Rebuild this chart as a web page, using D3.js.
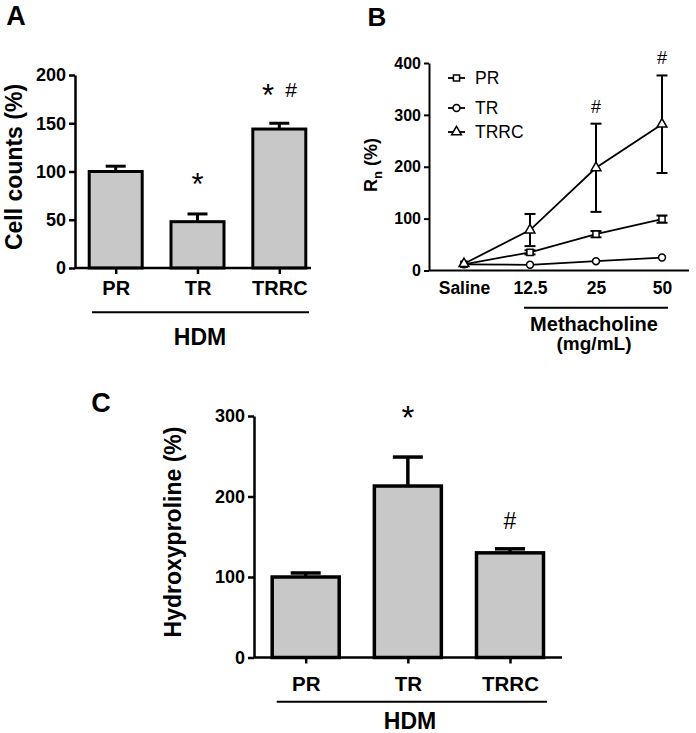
<!DOCTYPE html>
<html>
<head>
<meta charset="utf-8">
<script src="https://cdn.jsdelivr.net/npm/d3@7"></script>
<style>
html,body{margin:0;padding:0;background:#fff;}
svg{display:block;}
text{font-family:"Liberation Sans",Arial,Helvetica,sans-serif;fill:#000;}
</style>
</head>
<body>
<svg id="chart" width="696" height="733"></svg>
<script>
// ---------- DATA ----------
// Panel A: cell counts (%)
const catsA = ["PR", "TR", "TRRC"];
const valsA = [100, 48, 144];
const errA  = [5.5, 8, 6];
const ticksA = [0, 50, 100, 150, 200];

// Panel B: Rn (%) vs methacholine dose
const dosesB = ["Saline", "12.5", "25", "50"];
const seriesNamesB = ["PR", "TR", "TRRC"];
const prB   = [12, 35, 70, 99];
const prErrB = [2, 4, 6, 7];
const trB   = [12, 11, 18, 25];
const trErrB = [1, 1, 2, 2];
const trrcB = [13, 78, 198, 282];
const trrcErrB = [2, 31, 85, 94];
const ticksB = [0, 100, 200, 300, 400];
const sigB = [{dose:"25", mark:"#"}, {dose:"50", mark:"#"}];

// Panel C: hydroxyproline (%)
const catsC = ["PR", "TR", "TRRC"];
const valsC = [100, 213, 130];
const errC  = [5, 36, 5];
const ticksC = [0, 100, 200, 300];

// ---------- DRAW ----------
const svg = d3.select("#chart");
const FONT = '"Liberation Sans",Arial,Helvetica,sans-serif';

function text(g, x, y, s, size, weight, anchor) {
  return g.append("text").attr("x", x).attr("y", y)
    .attr("font-size", size).attr("font-weight", weight || "normal")
    .attr("text-anchor", anchor || "middle").text(s);
}
function vtext(g, x, y, s, size) {
  return g.append("text").attr("transform", `translate(${x},${y}) rotate(-90)`)
    .attr("font-size", size).attr("font-weight", "bold")
    .attr("text-anchor", "middle").text(s);
}
function styleAxis(ax, fs, lw) {
  ax.selectAll("path.domain").attr("stroke", "#000").attr("stroke-width", lw);
  ax.selectAll(".tick line").attr("stroke", "#000").attr("stroke-width", lw);
  ax.selectAll(".tick text").attr("font-size", fs).attr("font-weight", "bold")
    .attr("font-family", FONT).attr("fill", "#000");
}
// asterisk visual center is ~0.56em above baseline
function star(g, cx, cy, size) {
  text(g, cx, cy + size * 0.56, "*", size, "normal");
}

// ===== Panel A =====
(function(){
  const g = svg.append("g");
  const x0 = 75, xEnd = 311;
  const y = d3.scaleLinear().domain([0, 200]).range([268, 75]);
  const x = d3.scalePoint().domain(catsA).range([115.7, 279.3]);
  const bw = 53;

  text(g, 16, 25, "A", 27, "bold");

  const ay = g.append("g").attr("transform", `translate(${x0},0)`)
    .call(d3.axisLeft(y).tickValues(ticksA).tickSize(6).tickSizeOuter(0).tickPadding(3));
  styleAxis(ay, 18, 2.5);

  catsA.forEach((c, i) => {
    const cx = x(c);
    g.append("line").attr("x1", cx).attr("x2", cx).attr("y1", y(valsA[i])).attr("y2", y(valsA[i] + errA[i]))
      .attr("stroke", "#000").attr("stroke-width", 3);
    g.append("line").attr("x1", cx - 10).attr("x2", cx + 10).attr("y1", y(valsA[i] + errA[i])).attr("y2", y(valsA[i] + errA[i]))
      .attr("stroke", "#000").attr("stroke-width", 3);
    g.append("rect").attr("x", cx - bw / 2).attr("y", y(valsA[i]))
      .attr("width", bw).attr("height", y(0) - y(valsA[i]))
      .attr("fill", "#c8c8c8").attr("stroke", "#000").attr("stroke-width", 3);
  });

  g.append("line").attr("x1", x0).attr("x2", xEnd).attr("y1", y(0)).attr("y2", y(0))
    .attr("stroke", "#000").attr("stroke-width", 2.5);
  const ax = g.append("g").attr("transform", `translate(0,${y(0)})`)
    .call(d3.axisBottom(x).tickSize(6).tickSizeOuter(0));
  ax.select("path.domain").remove();
  styleAxis(ax, 20, 2.5);
  ax.selectAll(".tick text").attr("y", 27).attr("dy", 0);

  star(g, x("TR"), 178, 31);
  star(g, 268, 88.5, 31);
  text(g, 291, 97, "#", 21, "normal");

  g.append("line").attr("x1", 92).attr("x2", 309).attr("y1", 312.3).attr("y2", 312.3)
    .attr("stroke", "#000").attr("stroke-width", 2);
  text(g, 200, 345, "HDM", 23, "bold");

  vtext(g, 22, 167, "Cell counts (%)", 23);
})();

// ===== Panel B =====
(function(){
  const g = svg.append("g");
  const x0 = 429, xEnd = 689;
  const y = d3.scaleLinear().domain([0, 400]).range([270.5, 63]);
  const x = d3.scalePoint().domain(dosesB).range([464, 662]);

  text(g, 377, 26, "B", 26, "bold");

  const ay = g.append("g").attr("transform", `translate(${x0},0)`)
    .call(d3.axisLeft(y).tickValues(ticksB).tickSize(5).tickSizeOuter(0).tickPadding(3));
  styleAxis(ay, 16, 2);

  g.append("line").attr("x1", x0).attr("x2", xEnd).attr("y1", y(0)).attr("y2", y(0))
    .attr("stroke", "#000").attr("stroke-width", 2);
  const ax = g.append("g").attr("transform", `translate(0,${y(0)})`)
    .call(d3.axisBottom(x).tickSize(0).tickSizeOuter(0));
  ax.select("path.domain").remove();
  styleAxis(ax, 17.5, 2);
  ax.selectAll(".tick text").attr("y", 23).attr("dy", 0);

  const series = [
    {name: "PR", vals: prB, err: prErrB, sym: d3.symbolSquare, size: 38},
    {name: "TR", vals: trB, err: trErrB, sym: d3.symbolCircle, size: 38},
    {name: "TRRC", vals: trrcB, err: trrcErrB, sym: d3.symbolTriangle, size: 42}
  ];
  const line = d3.line().x((d, i) => x(dosesB[i])).y(d => y(d));

  series.forEach(s => {
    g.append("path").attr("d", line(s.vals)).attr("fill", "none")
      .attr("stroke", "#000").attr("stroke-width", 1.8);
  });
  series.forEach(s => {
    s.vals.forEach((v, i) => {
      if (s.err[i] < 3) return;
      const cx = x(dosesB[i]);
      g.append("line").attr("x1", cx).attr("x2", cx).attr("y1", y(v - s.err[i])).attr("y2", y(v + s.err[i]))
        .attr("stroke", "#000").attr("stroke-width", 2);
      [v - s.err[i], v + s.err[i]].forEach(e => {
        g.append("line").attr("x1", cx - 5.5).attr("x2", cx + 5.5).attr("y1", y(e)).attr("y2", y(e))
          .attr("stroke", "#000").attr("stroke-width", 2);
      });
    });
  });
  series.forEach(s => {
    s.vals.forEach((v, i) => {
      g.append("path").attr("d", d3.symbol().type(s.sym).size(s.size)())
        .attr("transform", `translate(${x(dosesB[i])},${y(v)})`)
        .attr("fill", "#fff").attr("stroke", "#000").attr("stroke-width", 1.5);
    });
  });

  sigB.forEach(sg => {
    const i = dosesB.indexOf(sg.dose);
    const top = trrcB[i] + trrcErrB[i];
    text(g, x(sg.dose), y(top) - 11, sg.mark, 18, "normal");
  });

  const legY = [78, 108, 132];
  series.forEach((s, k) => {
    g.append("line").attr("x1", 448).attr("x2", 465).attr("y1", legY[k]).attr("y2", legY[k])
      .attr("stroke", "#000").attr("stroke-width", 1.8);
    g.append("path").attr("d", d3.symbol().type(s.sym).size(s.size)())
      .attr("transform", `translate(456.5,${legY[k]})`)
      .attr("fill", "#fff").attr("stroke", "#000").attr("stroke-width", 1.5);
    text(g, 475, legY[k] + 6, s.name, 17.5, "normal", "start");
  });

  g.append("line").attr("x1", 524).attr("x2", 668).attr("y1", 307.7).attr("y2", 307.7)
    .attr("stroke", "#000").attr("stroke-width", 2);
  text(g, 594, 331, "Methacholine", 20, "bold");
  text(g, 594, 350, "(mg/mL)", 19, "bold");

  const t = g.append("text").attr("transform", "translate(377,165) rotate(-90)")
    .attr("font-size", 18).attr("font-weight", "bold").attr("text-anchor", "middle");
  t.append("tspan").text("R");
  t.append("tspan").attr("font-size", 13).attr("dy", 5).text("n");
  t.append("tspan").attr("dy", -5).text(" (%)");
})();

// ===== Panel C =====
(function(){
  const g = svg.append("g");
  const x0 = 254, xEnd = 562;
  const y = d3.scaleLinear().domain([0, 300]).range([657.5, 416]);
  const x = d3.scalePoint().domain(catsC).range([305.7, 510]);
  const bw = 67;

  text(g, 101, 412, "C", 27, "bold");

  const ay = g.append("g").attr("transform", `translate(${x0},0)`)
    .call(d3.axisLeft(y).tickValues(ticksC).tickSize(6).tickSizeOuter(0).tickPadding(3));
  styleAxis(ay, 18, 2.5);

  catsC.forEach((c, i) => {
    const cx = x(c);
    g.append("line").attr("x1", cx).attr("x2", cx).attr("y1", y(valsC[i])).attr("y2", y(valsC[i] + errC[i]))
      .attr("stroke", "#000").attr("stroke-width", 3.5);
    g.append("line").attr("x1", cx - 15).attr("x2", cx + 15).attr("y1", y(valsC[i] + errC[i])).attr("y2", y(valsC[i] + errC[i]))
      .attr("stroke", "#000").attr("stroke-width", 3.5);
    g.append("rect").attr("x", cx - bw / 2).attr("y", y(valsC[i]))
      .attr("width", bw).attr("height", y(0) - y(valsC[i]))
      .attr("fill", "#c8c8c8").attr("stroke", "#000").attr("stroke-width", 3.5);
  });

  g.append("line").attr("x1", x0).attr("x2", xEnd).attr("y1", y(0)).attr("y2", y(0))
    .attr("stroke", "#000").attr("stroke-width", 2.5);
  const ax = g.append("g").attr("transform", `translate(0,${y(0)})`)
    .call(d3.axisBottom(x).tickSize(6).tickSizeOuter(0));
  ax.select("path.domain").remove();
  styleAxis(ax, 20.5, 2.5);
  ax.selectAll(".tick text").attr("y", 33.5).attr("dy", 0);

  star(g, x("TR"), 411, 33);
  text(g, x("TRRC"), 529, "#", 23, "normal");

  g.append("line").attr("x1", 276.7).attr("x2", 547).attr("y1", 701.7).attr("y2", 701.7)
    .attr("stroke", "#000").attr("stroke-width", 2);
  text(g, 410, 729, "HDM", 23, "bold");

  vtext(g, 181, 532, "Hydroxyproline (%)", 23);
})();
</script>
</body>
</html>
